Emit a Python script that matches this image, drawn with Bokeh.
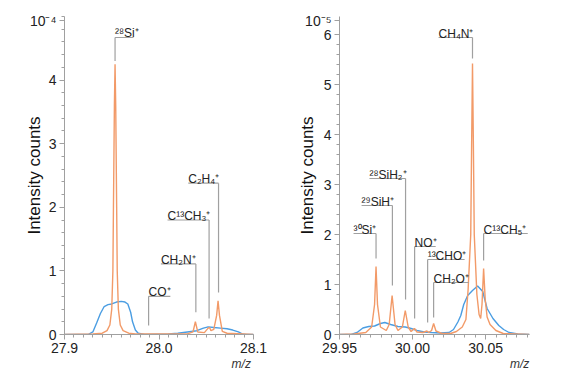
from bokeh.plotting import figure
from bokeh.layouts import row
from bokeh.models import (ColumnDataSource, FixedTicker, NumeralTickFormatter, LinearAxis)
from bokeh.core.properties import value
from bokeh.embed import file_html
from bokeh.resources import INLINE

FONT = "Liberation Sans"
ORANGE = "#F29A68"
BLUE = "#4A9DE2"
GRAY = "#A0A0A0"

# ---------------- Left panel data (x10^-4) ----------------
left_orange_x = [27.900, 27.930, 27.940, 27.945, 27.948, 27.950, 27.9512, 27.9518, 27.9528,
                 27.9535, 27.9542, 27.9552, 27.9558, 27.957, 27.959, 27.962, 27.968, 27.975,
                 27.989, 28.000, 28.030, 28.036, 28.0385, 28.041, 28.048, 28.052, 28.0535,
                 28.055, 28.058, 28.061, 28.0625, 28.064, 28.067, 28.072, 28.100]
left_orange_y = [0.0, 0.01, 0.02, 0.06, 0.15, 0.4, 1.0, 2.0, 3.6,
                 4.25, 3.6, 2.0, 1.0, 0.4, 0.15, 0.06, 0.02, 0.01,
                 0.01, 0.01, 0.01, 0.04, 0.2, 0.04, 0.03, 0.1, 0.11,
                 0.06, 0.08, 0.3, 0.53, 0.3, 0.05, 0.02, 0.0]

left_blue_x = [27.900, 27.925, 27.930, 27.934, 27.938, 27.942, 27.946, 27.950, 27.955,
               27.960, 27.964, 27.967, 27.970, 27.972, 27.975, 27.978, 27.985, 28.010,
               28.020, 28.030, 28.040, 28.047, 28.052, 28.058, 28.065, 28.072, 28.078,
               28.084, 28.088, 28.092, 28.100]
left_blue_y = [0.0, 0.0, 0.04, 0.18, 0.33, 0.44, 0.47, 0.48, 0.51,
               0.52, 0.51, 0.48, 0.35, 0.2, 0.07, 0.02, 0.0, 0.01,
               0.02, 0.04, 0.06, 0.1, 0.12, 0.11, 0.1, 0.09, 0.07,
               0.04, 0.01, 0.0, 0.0]

left_labels = ["²⁸Si⁺", "CO⁺", "CH₂N⁺", "C¹³CH₃⁺", "C₂H₄⁺"]
left_peak_x = [27.9535, 27.989, 28.039, 28.053, 28.063]
left_other_x = [27.973, 28.012, 28.002, 28.009, 28.031]
left_line_y = [4.67, 0.60, 1.11, 1.80, 2.38]
left_end_y = [4.30, 0.14, 0.35, 0.25, 0.66]

left_xticks = [27.9, 28.0, 28.1]
left_yticks = [0, 1, 2, 3, 4]
left_exp_label = "10⁻⁴"
left_exp_pos = 4.93
left_unit_pos = 28.087

# ---------------- Right panel data (x10^-5) ----------------
right_orange_x = [29.950, 29.960, 29.968, 29.972, 29.974, 29.975, 29.976, 29.978, 29.982,
                  29.984, 29.986, 29.988, 29.990, 29.993, 29.995, 29.997, 29.999, 30.0013,
                  30.003, 30.007, 30.0098, 30.011, 30.013, 30.0144, 30.016, 30.020, 30.026,
                  30.030, 30.034, 30.0365, 30.038, 30.0398, 30.0404, 30.041, 30.0416, 30.0422,
                  30.044, 30.0455, 30.0466, 30.0475, 30.0486, 30.0497, 30.051, 30.053, 30.057,
                  30.062, 30.080]
right_orange_y = [0.0, 0.01, 0.04, 0.15, 0.6, 1.36, 0.6, 0.15, 0.08,
                  0.2, 0.78, 0.2, 0.08, 0.15, 0.48, 0.15, 0.06, 0.12,
                  0.05, 0.04, 0.07, 0.04, 0.08, 0.22, 0.07, 0.02, 0.02,
                  0.06, 0.15, 0.3, 0.9, 2.0, 3.8, 5.42, 3.8, 2.0,
                  0.8, 0.4, 0.32, 0.6, 1.32, 0.7, 0.35, 0.2, 0.08,
                  0.02, 0.0]

right_blue_x = [29.950, 29.958, 29.962, 29.966, 29.970, 29.974, 29.978, 29.981, 29.985,
                29.990, 29.995, 29.999, 30.003, 30.008, 30.013, 30.019, 30.025, 30.028,
                30.031, 30.033, 30.035, 30.0377, 30.041, 30.0445, 30.048, 30.051, 30.055,
                30.059, 30.0623, 30.066, 30.072, 30.080]
right_blue_y = [0.0, 0.0, 0.04, 0.13, 0.16, 0.17, 0.22, 0.24, 0.2,
                0.16, 0.15, 0.12, 0.08, 0.05, 0.04, 0.03, 0.04, 0.1,
                0.25, 0.38, 0.6, 0.78, 0.88, 0.97, 0.86, 0.52, 0.32,
                0.18, 0.1, 0.04, 0.01, 0.0]

right_labels = ["³⁰Si⁺", "²⁹SiH⁺", "²⁸SiH₂⁺", "NO⁺", "¹³CHO⁺", "CH₂O⁺", "CH₄N⁺", "C¹³CH₅⁺"]
right_peak_x = [29.975, 29.9862, 29.9952, 30.0014, 30.0103, 30.0144, 30.041, 30.0486]
right_other_x = [29.9596, 29.9651, 29.9705, 30.0158, 30.0356, 30.0384, 30.0178, 30.0788]
right_line_y = [2.02, 2.58, 3.12, 1.76, 1.50, 1.04, 5.94, 2.02]
right_end_y = [1.52, 0.98, 0.70, 0.32, 0.24, 0.34, 5.52, 1.48]

right_xticks = [29.95, 30.00, 30.05]
right_yticks = [0, 1, 2, 3, 4, 5, 6]
right_exp_label = "10⁻⁵"
right_exp_pos = 6.28
right_unit_pos = 30.0733


def style_axis(ax):
    ax.axis_line_color = GRAY
    ax.major_tick_line_color = GRAY
    ax.minor_tick_line_color = GRAY
    ax.major_tick_in = 0
    ax.minor_tick_in = 0
    ax.major_tick_out = 5
    ax.minor_tick_out = 3
    ax.major_label_text_font = FONT
    ax.major_label_text_font_size = "14px"
    ax.major_label_text_color = "#222222"
    ax.major_label_standoff = 3


def make_panel(width, border_left, border_right, label_standoff, xr, yr, xticks, xminor,
               yticks, yminor, xfmt, ox, oy, bx, by, labels, peak_x, other_x, line_y,
               end_y, exp_label, exp_pos, unit_pos):
    p = figure(width=width, height=374, x_range=xr, y_range=yr,
               output_backend="svg", toolbar_location=None,
               min_border_left=border_left, min_border_right=border_right,
               min_border_top=16, min_border_bottom=40)
    p.outline_line_color = None
    p.grid.visible = False
    p.background_fill_color = "white"

    p.xaxis.ticker = FixedTicker(ticks=xticks, minor_ticks=xminor)
    p.xaxis.formatter = NumeralTickFormatter(format=xfmt)
    p.yaxis.ticker = FixedTicker(ticks=yticks + [exp_pos], minor_ticks=yminor)
    p.yaxis.major_label_overrides = {exp_pos: exp_label}
    style_axis(p.xaxis[0])
    style_axis(p.yaxis[0])
    p.yaxis.axis_label = "Intensity counts"
    p.yaxis.axis_label_text_font = FONT
    p.yaxis.axis_label_text_font_size = "17px"
    p.yaxis.axis_label_text_font_style = "normal"
    p.yaxis.axis_label_text_color = "#111111"
    p.yaxis.axis_label_standoff = label_standoff

    # "m/z" unit written as a second, line-less axis below the x axis
    unit_axis = LinearAxis(ticker=FixedTicker(ticks=[unit_pos]),
                           major_label_overrides={unit_pos: "m/z"})
    unit_axis.axis_line_color = None
    unit_axis.major_tick_line_color = None
    unit_axis.minor_tick_line_color = None
    unit_axis.major_tick_out = 0
    unit_axis.major_tick_in = 0
    unit_axis.minor_tick_out = 0
    unit_axis.major_label_standoff = 1
    unit_axis.major_label_text_font = FONT
    unit_axis.major_label_text_font_size = "12px"
    unit_axis.major_label_text_font_style = "italic"
    unit_axis.major_label_text_color = "#333333"
    p.add_layout(unit_axis, "below")

    p.line(bx, by, line_color=BLUE, line_width=1.4)
    p.line(ox, oy, line_color=ORANGE, line_width=1.4)

    lx0 = [min(a, b) for a, b in zip(peak_x, other_x)]
    lx1 = [max(a, b) for a, b in zip(peak_x, other_x)]
    src = ColumnDataSource(dict(label=labels, peak=peak_x, lx0=lx0, lx1=lx1,
                                ly=line_y, ey=end_y))
    p.segment(x0="lx0", y0="ly", x1="lx1", y1="ly", source=src,
              line_color=GRAY, line_width=1.2)
    p.segment(x0="peak", y0="ly", x1="peak", y1="ey", source=src,
              line_color=GRAY, line_width=1.2)
    p.text(x="lx0", y="ly", text="label", source=src, text_font=value(FONT),
           text_font_size="12px", text_color="#222222", text_align="left",
           text_baseline="alphabetic", y_offset=-4)
    return p


left_xminor = [27.9 + i * 0.01 for i in range(21)]
left_yminor = [i * 0.2 for i in range(26)]
right_xminor = [29.95 + i * 0.05 / 7 for i in range(19)]
right_yminor = [i * 0.2 for i in range(31)]

p1 = make_panel(280, 64, 27, -17, (27.9, 28.1), (0, 5.0), left_xticks, left_xminor,
                left_yticks, left_yminor, "0.0",
                left_orange_x, left_orange_y, left_blue_x, left_blue_y,
                left_labels, left_peak_x, left_other_x, left_line_y, left_end_y,
                left_exp_label, left_exp_pos, left_unit_pos)
p2 = make_panel(273, 59, 24, -15, (29.95, 30.08), (0, 6.36), right_xticks, right_xminor,
                right_yticks, right_yminor, "0.00",
                right_orange_x, right_orange_y, right_blue_x, right_blue_y,
                right_labels, right_peak_x, right_other_x, right_line_y, right_end_y,
                right_exp_label, right_exp_pos, right_unit_pos)

layout = row(p1, p2)
open("out.html", "w").write(file_html(layout, INLINE))
